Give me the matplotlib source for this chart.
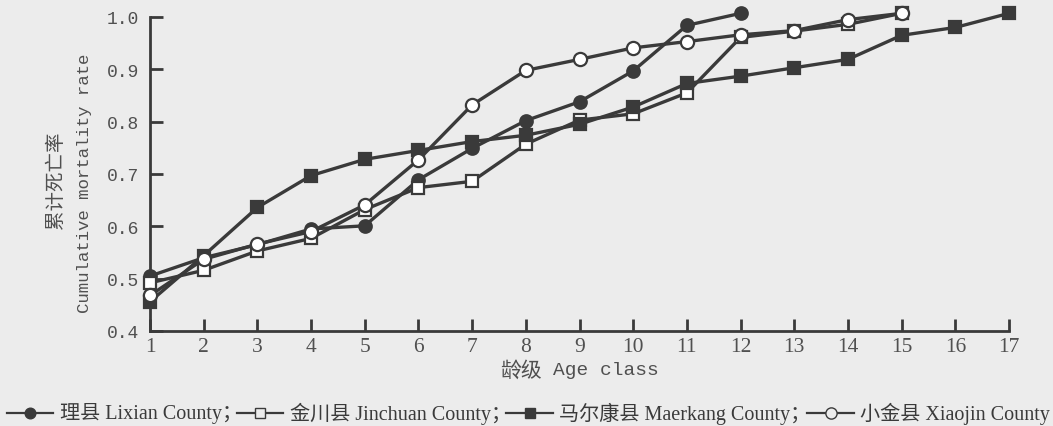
import matplotlib
matplotlib.use("Agg")
import matplotlib.pyplot as plt
from matplotlib.lines import Line2D

# Age classes and cumulative mortality rate per county
age_class = list(range(1, 18))
lixian = [0.505, 0.540, 0.565, 0.595, 0.601, 0.689, 0.749, 0.802, 0.838, 0.897, 0.984, 1.007]
jinchuan = [0.492, 0.516, 0.553, 0.577, 0.632, 0.674, 0.686, 0.757, 0.803, 0.815, 0.855, 0.961, 0.973, 0.986, 1.007]
maerkang = [0.456, 0.544, 0.636, 0.697, 0.728, 0.745, 0.762, 0.774, 0.795, 0.828, 0.873, 0.887, 0.903, 0.919, 0.965, 0.980, 1.007]
xiaojin = [0.468, 0.537, 0.566, 0.590, 0.641, 0.727, 0.832, 0.898, 0.919, 0.941, 0.953, 0.966, 0.974, 0.995, 1.007]

y_ticks = [0.4, 0.5, 0.6, 0.7, 0.8, 0.9, 1.0]
y_tick_labels = ["0.4", "0.5", "0.6", "0.7", "0.8", "0.9", "1.0"]

series_names = ["理县 Lixian County；", "金川县 Jinchuan County；",
                "马尔康县 Maerkang County；", "小金县 Xiaojin County"]

BG = "#ececec"
INK = "#3a3a3a"
TXT = "#505050"
SERIF = ["Liberation Serif", "Noto Sans CJK SC"]
MONO = ["Liberation Mono", "Noto Sans CJK SC"]
CJK = ["Noto Sans CJK SC"]

W, H = 1053, 427
fig = plt.figure(figsize=(W / 100, H / 100), dpi=100, facecolor=BG)
ax = fig.add_axes([150 / W, 1 - 332 / H, (1009 - 150) / W, (332 - 18) / H])
ax.set_facecolor(BG)

styles = [
    dict(marker="o", mfc=INK, ms=9),
    dict(marker="s", mfc="white", ms=8.5),
    dict(marker="s", mfc=INK, ms=9),
    dict(marker="o", mfc="white", ms=9.5),
]
for vals, st in zip([lixian, jinchuan, maerkang, xiaojin], styles):
    ax.plot(age_class[:len(vals)], vals, color=INK, lw=2.4, mec=INK, mew=1.6,
            clip_on=False, zorder=3, **st)

ax.set_xlim(1, 17)
ax.set_ylim(0.4, 1.0)
ax.set_xticks(age_class)
ax.set_xticklabels([str(a) for a in age_class], fontsize=15.5, family=SERIF, color=TXT)
ax.set_yticks(y_ticks)
ax.set_yticklabels(y_tick_labels, fontsize=13, family=MONO, color=TXT)
ax.tick_params(axis="both", direction="in", length=9, width=2, color=INK)
ax.tick_params(axis="x", pad=4)
ax.tick_params(axis="y", pad=8)
for s in ["top", "right"]:
    ax.spines[s].set_visible(False)
for s in ["left", "bottom"]:
    ax.spines[s].set_linewidth(2)
    ax.spines[s].set_color(INK)

# Axis titles
fig.text(55 / W, 1 - 180 / H, "累计死亡率", rotation=90, ha="center", va="center",
         fontsize=14, family=CJK, color=TXT)
fig.text(85 / W, 1 - 183 / H, "Cumulative mortality rate", rotation=90, ha="center",
         va="center", fontsize=12.5, family=MONO, color=TXT)
fig.text(500 / W, 1 - 371 / H, "龄级", ha="left", va="center",
         fontsize=15, family=CJK, color=TXT)
fig.text(553 / W, 1 - 371 / H, "Age class", ha="left", va="center",
         fontsize=14, family=MONO, color=TXT)

# Legend row drawn as line+marker handles followed by labels
handle_x = [(7, 53), (237, 283), (506, 553), (807, 854)]
text_x = [60, 290, 559, 860]
ly = 1 - 414 / H
for (x0, x1), tx, st, name in zip(handle_x, text_x, styles, series_names):
    fig.add_artist(Line2D([x0 / W, x1 / W], [ly, ly], color=INK, lw=1.6))
    ms = st["ms"] * 0.85
    fig.add_artist(Line2D([(x0 + x1) / 2 / W], [ly], marker=st["marker"], ms=ms,
                          mfc=st["mfc"] if st["mfc"] == INK else BG, mec=INK, mew=1.0,
                          lw=0))
    fig.text(tx / W, ly, name, ha="left", va="center", fontsize=14.5,
             family=SERIF, color="#3a3a3a")

fig.savefig("out.png", dpi=100, facecolor=BG)
